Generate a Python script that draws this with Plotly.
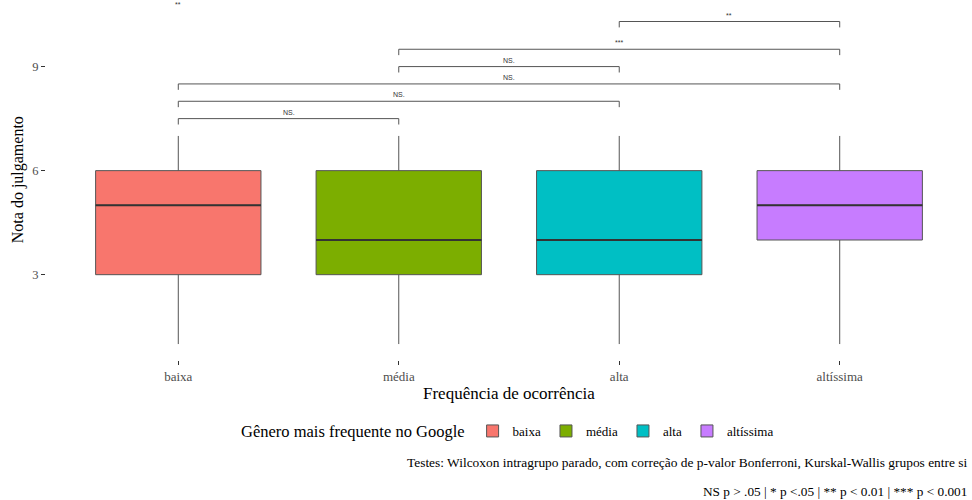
import plotly.graph_objects as go

# Box summaries per frequency group
categories = ["baixa", "média", "alta", "altíssima"]
lower_whisker = [1, 1, 1, 1]
q1 = [3, 3, 3, 4]
median = [5, 4, 4, 5]
q3 = [6, 6, 6, 6]
upper_whisker = [7, 7, 7, 7]
colors = ["#F8766D", "#7CAE00", "#00BFC4", "#C77CFF"]

# Pairwise comparisons: (group a, group b, bracket height, label)
comp_a = ["baixa", "baixa", "baixa", "média", "média", "alta"]
comp_b = ["média", "alta", "altíssima", "alta", "altíssima", "altíssima"]
comp_y = [7.5, 8.0, 8.5, 9.0, 9.5, 10.3]
comp_label = ["NS.", "NS.", "NS.", "NS.", "***", "**"]

# Extra significance mark over a single group
single_group = "baixa"
single_y = 10.8
single_label = "**"

y_ticks = [3, 6, 9]
box_width = 0.75
tip = 0.17

SERIF = "Liberation Serif, Times New Roman, serif"
SANS = "Liberation Sans, Arial, sans-serif"

fig = go.Figure()
for i, cat in enumerate(categories):
    fig.add_trace(go.Box(
        x=[cat], q1=[q1[i]], median=[median[i]], q3=[q3[i]],
        lowerfence=[lower_whisker[i]], upperfence=[upper_whisker[i]],
        name=cat, fillcolor=colors[i],
        line=dict(color="#555555", width=1),
        whiskerwidth=0, width=box_width, boxpoints=False,
        hoverinfo="skip",
    ))

shapes = []
annotations = []
idx = {c: i for i, c in enumerate(categories)}

# thicker median lines
for i, cat in enumerate(categories):
    shapes.append(dict(type="line", xref="x", yref="y",
                       x0=i - box_width / 2, x1=i + box_width / 2,
                       y0=median[i], y1=median[i],
                       line=dict(color="#333333", width=2)))

# significance brackets
for a, b, yv, lab in zip(comp_a, comp_b, comp_y, comp_label):
    xa, xb = idx[a], idx[b]
    shapes.append(dict(type="path", xref="x", yref="y",
                       path=f"M {xa},{yv - tip} L {xa},{yv} L {xb},{yv} L {xb},{yv - tip}",
                       line=dict(color="#555555", width=1)))
    annotations.append(dict(x=(xa + xb) / 2, y=yv, xref="x", yref="y",
                            text=lab, showarrow=False, yanchor="bottom", yshift=1,
                            font=dict(family=SANS, size=7, color="#333333")))

annotations.append(dict(x=idx[single_group], y=single_y, xref="x", yref="y",
                        text=single_label, showarrow=False, yanchor="middle",
                        font=dict(family=SANS, size=7, color="#333333")))

# axis titles and captions
annotations += [
    dict(x=0.5, y=-0.092, xref="paper", yref="paper", text="Frequência de ocorrência",
         showarrow=False, xanchor="center", yanchor="middle",
         font=dict(family=SERIF, size=17, color="black")),
    dict(x=-0.030, y=0.5, xref="paper", yref="paper", text="Nota do julgamento",
         showarrow=False, textangle=-90, xanchor="center", yanchor="middle",
         font=dict(family=SERIF, size=16, color="black")),
    dict(x=1, y=-0.286, xref="paper", yref="paper", xshift=-3,
         text="Testes: Wilcoxon intragrupo parado, com correção de p-valor Bonferroni, Kurskal-Wallis grupos entre si",
         showarrow=False, xanchor="right", yanchor="middle",
         font=dict(family=SERIF, size=13.4, color="black")),
    dict(x=1, y=-0.364, xref="paper", yref="paper", xshift=-3,
         text="NS p > .05 | * p <.05 | ** p < 0.01 | *** p < 0.001",
         showarrow=False, xanchor="right", yanchor="middle",
         font=dict(family=SERIF, size=13.3, color="black")),
]

fig.update_layout(
    width=972, height=500,
    margin=dict(l=46, r=0, t=0, b=140),
    paper_bgcolor="white", plot_bgcolor="white",
    boxmode="overlay",
    shapes=shapes, annotations=annotations,
    showlegend=True,
    legend=dict(orientation="h", x=0.5, xanchor="center", y=-0.2, yanchor="middle",
                title=dict(text="Gênero mais frequente no Google",
                           font=dict(family=SERIF, size=16.5, color="black")),
                font=dict(family=SERIF, size=13, color="black"),
                itemwidth=30),
    xaxis=dict(type="category", categoryorder="array", categoryarray=categories,
               range=[-0.6, 3.6], showgrid=False, zeroline=False, showline=False,
               ticks="outside", ticklen=4, tickcolor="#333333",
               tickfont=dict(family=SERIF, size=13, color="#4D4D4D")),
    yaxis=dict(range=[0.54, 10.92], tickvals=y_ticks, showgrid=False, zeroline=False,
               showline=False, ticks="outside", ticklen=4, tickcolor="#333333",
               tickfont=dict(family=SERIF, size=12.5, color="#4D4D4D")),
)

fig.write_html("out.html")
